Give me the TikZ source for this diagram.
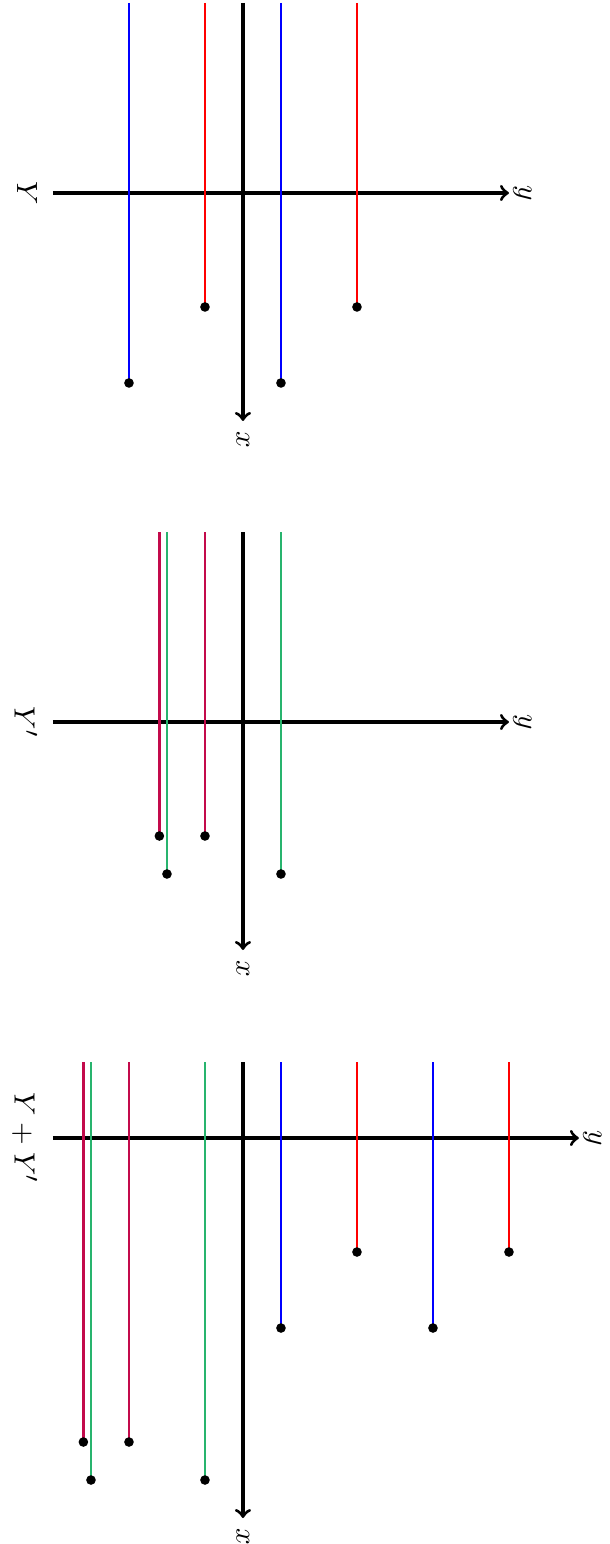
\documentclass[tikz,border=0pt]{standalone}
\usepackage{tikz}
\usetikzlibrary{arrows,positioning}
\definecolor{rayblue}{RGB}{0,0,255}
\definecolor{rayred}{RGB}{255,0,0}
\definecolor{raygreen}{RGB}{40,180,110}
\definecolor{raycrimson}{RGB}{195,10,75}

\begin{document}
\begin{tikzpicture}[
    axis/.style={very thick, ->},
    ray/.style={line width=0.9pt},
    lbl/.style={font=\fontsize{11}{13}\selectfont},
    ylbl/.style={lbl, above, inner sep=1pt}
]
    \useasboundingbox (0,0) rectangle (8.026,-20.316);

    % Y
    \begin{scope}[shift={(3.197,-2.539)}, rotate=-90, transform shape]
        \draw[axis] (-2.5,0) -- (3,0) node[lbl, right] (xlabY) {$x$};
        \draw[axis] (0,-2.5) node[lbl, below=2pt] (nameY) {$Y$} -- (0,3.5) node[ylbl] (ylabY) {$y$};
        \draw[ray, rayblue] (-2.5,-1.5) -- (2.5,-1.5);
        \draw[ray, rayred] (-2.5,-0.5) -- (1.5,-0.5);
        \draw[ray, rayblue] (-2.5,0.5) -- (2.5,0.5);
        \draw[ray, rayred] (-2.5,1.5) -- (1.5,1.5);
        \fill (2.5,-1.5) circle (1.8pt);
        \fill (1.5,-0.5) circle (1.8pt);
        \fill (2.5,0.5) circle (1.8pt);
        \fill (1.5,1.5) circle (1.8pt);
    \end{scope}

    % Y'
    \begin{scope}[shift={(3.197,-9.5)}, rotate=-90, transform shape]
        \draw[axis] (-2.5,0) -- (3,0) node[lbl, right] (xlabYp) {$x$};
        \draw[axis] (0,-2.5) node[lbl, below=2pt] (nameYp) {$Y'$} -- (0,3.5) node[ylbl] (ylabYp) {$y$};
        \draw[ray, raycrimson] (-2.5,-1.1) -- (1.5,-1.1);
        \draw[ray, raygreen] (-2.5,-1) -- (2,-1);
        \draw[ray, raycrimson] (-2.5,-0.5) -- (1.5,-0.5);
        \draw[ray, raygreen] (-2.5,0.5) -- (2,0.5);
        \fill (1.5,-1.1) circle (1.8pt);
        \fill (2,-1) circle (1.8pt);
        \fill (1.5,-0.5) circle (1.8pt);
        \fill (2,0.5) circle (1.8pt);
    \end{scope}

    % Y + Y'
    \begin{scope}[shift={(3.197,-14.974)}, rotate=-90, transform shape]
        \draw[axis] (-1,0) -- (5,0) node[lbl, right] (xlabS) {$x$};
        \draw[axis] (0,-2.5) node[lbl, below=2pt] (nameS) {$Y+Y'$} -- (0,4.42) node[ylbl] (ylabS) {$y$};
        \draw[ray, raycrimson] (-1,-2.1) -- (4,-2.1);
        \draw[ray, raygreen] (-1,-2) -- (4.5,-2);
        \draw[ray, raycrimson] (-1,-1.5) -- (4,-1.5);
        \draw[ray, raygreen] (-1,-0.5) -- (4.5,-0.5);
        \draw[ray, rayblue] (-1,0.5) -- (2.5,0.5);
        \draw[ray, rayred] (-1,1.5) -- (1.5,1.5);
        \draw[ray, rayblue] (-1,2.5) -- (2.5,2.5);
        \draw[ray, rayred] (-1,3.5) -- (1.5,3.5);
        \fill (4,-2.1) circle (1.8pt);
        \fill (4.5,-2) circle (1.8pt);
        \fill (4,-1.5) circle (1.8pt);
        \fill (4.5,-0.5) circle (1.8pt);
        \fill (2.5,0.5) circle (1.8pt);
        \fill (1.5,1.5) circle (1.8pt);
        \fill (2.5,2.5) circle (1.8pt);
        \fill (1.5,3.5) circle (1.8pt);
    \end{scope}
\end{tikzpicture}
\end{document}
